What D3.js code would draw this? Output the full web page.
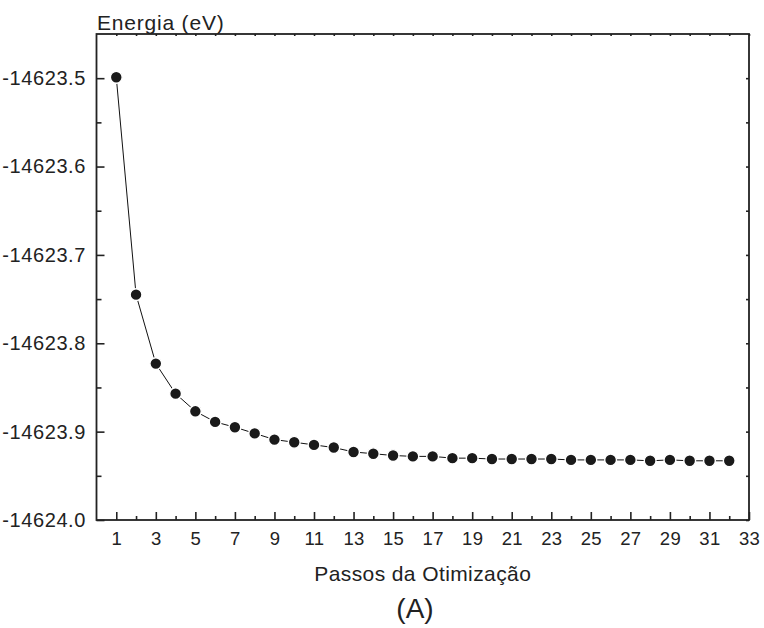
<!DOCTYPE html>
<html><head><meta charset="utf-8">
<script src="https://cdn.jsdelivr.net/npm/d3@7"></script>
<style>
html,body{margin:0;padding:0;background:#fff;}
svg{display:block;font-family:"Liberation Sans",Arial,sans-serif;}
</style></head>
<body>
<svg id="chart" width="764" height="628"></svg>
<script>
const steps = d3.range(1, 33);
const energy = [-14623.499, -14623.745, -14623.823, -14623.857, -14623.877, -14623.889,
  -14623.895, -14623.902, -14623.909, -14623.912, -14623.915, -14623.918, -14623.923,
  -14623.925, -14623.927, -14623.928, -14623.928, -14623.930, -14623.930, -14623.931,
  -14623.931, -14623.931, -14623.931, -14623.932, -14623.932, -14623.932, -14623.932,
  -14623.933, -14623.932, -14623.933, -14623.933, -14623.933];
const xMajorTicks = [1,3,5,7,9,11,13,15,17,19,21,23,25,27,29,31,33];
const xMinorTicks = [2,4,6,8,10,12,14,16,18,20,22,24,26,28,30,32];
const yMajorTicks = [-14624.0, -14623.9, -14623.8, -14623.7, -14623.6, -14623.5];
const yMinorTicks = [-14623.95, -14623.85, -14623.75, -14623.65, -14623.55];
const yTitle = "Energia (eV)";
const xTitle = "Passos da Otimização";
const panelLabel = "(A)";

const L = 96.5, R = 749, T = 34, B = 520;
const svg = d3.select("#chart");
const x = d3.scaleLinear().domain([0, 33]).range([L, R]);
const y = d3.scaleLinear().domain([-14624.0, -14623.45]).range([B, T]);
const ink = "#222";
const yFmt = v => d3.format(".1f")(v).replace("\u2212", "-");

// bottom axis
const gx = svg.append("g").attr("transform", `translate(0,${B})`)
  .call(d3.axisBottom(x).tickValues(xMajorTicks).tickSizeInner(-8).tickSizeOuter(0).tickPadding(12).tickFormat(d3.format("d")));
svg.append("g").attr("transform", `translate(0,${B})`)
  .call(d3.axisBottom(x).tickValues(xMinorTicks).tickSizeInner(-4).tickSizeOuter(0).tickFormat(""));
// left axis
const gy = svg.append("g").attr("transform", `translate(${L},0)`)
  .call(d3.axisLeft(y).tickValues(yMajorTicks).tickSizeInner(-8).tickSizeOuter(0).tickPadding(10.5).tickFormat(yFmt));
svg.append("g").attr("transform", `translate(${L},0)`)
  .call(d3.axisLeft(y).tickValues(yMinorTicks).tickSizeInner(-5).tickSizeOuter(0).tickFormat(""));
// top & right mirror ticks (small)
svg.append("g").attr("transform", `translate(0,${T})`)
  .call(d3.axisTop(x).tickValues(xMajorTicks.concat(xMinorTicks)).tickSizeInner(-2).tickSizeOuter(0).tickFormat(""));
svg.append("g").attr("transform", `translate(${R},0)`)
  .call(d3.axisRight(y).tickValues(yMajorTicks.concat(yMinorTicks)).tickSizeInner(-3).tickSizeOuter(0).tickFormat(""));

svg.selectAll(".domain").remove();
svg.selectAll(".tick line").attr("stroke", ink).attr("stroke-width", 1.6);
gx.selectAll(".tick text").attr("font-size", 18.5).attr("fill", "#222").attr("letter-spacing", "0.3px")
  .attr("font-family", "'Liberation Sans', Arial, sans-serif");
gy.selectAll(".tick text").attr("font-size", 20).attr("fill", "#222").attr("letter-spacing", "0.6px")
  .attr("font-family", "'Liberation Sans', Arial, sans-serif");

// frame
svg.append("rect").attr("x", L).attr("y", T).attr("width", R - L).attr("height", B - T)
  .attr("fill", "none").attr("stroke", ink).attr("stroke-width", 1.8);

// data
const pts = steps.map((s, i) => ({s, e: energy[i]}));
svg.append("path").datum(pts)
  .attr("fill", "none").attr("stroke", "#111").attr("stroke-width", 1)
  .attr("d", d3.line().x(d => x(d.s)).y(d => y(d.e)));
svg.append("g").selectAll("circle").data(pts).join("circle")
  .attr("cx", d => x(d.s)).attr("cy", d => y(d.e)).attr("r", 5.9)
  .attr("fill", "#1a1a1a").attr("stroke", "#fff").attr("stroke-width", 1.4);

// titles
svg.append("text").attr("x", 97).attr("y", 30).attr("font-size", 21).attr("fill", "#222")
  .attr("letter-spacing", "0.8px").text(yTitle);
svg.append("text").attr("x", (L + R) / 2).attr("y", 581).attr("text-anchor", "middle")
  .attr("font-size", 21).attr("fill", "#222").attr("letter-spacing", "0.4px").text(xTitle);
svg.append("text").attr("x", 415).attr("y", 618).attr("text-anchor", "middle")
  .attr("font-size", 28).attr("fill", "#222").text(panelLabel);
</script>
</body></html>
